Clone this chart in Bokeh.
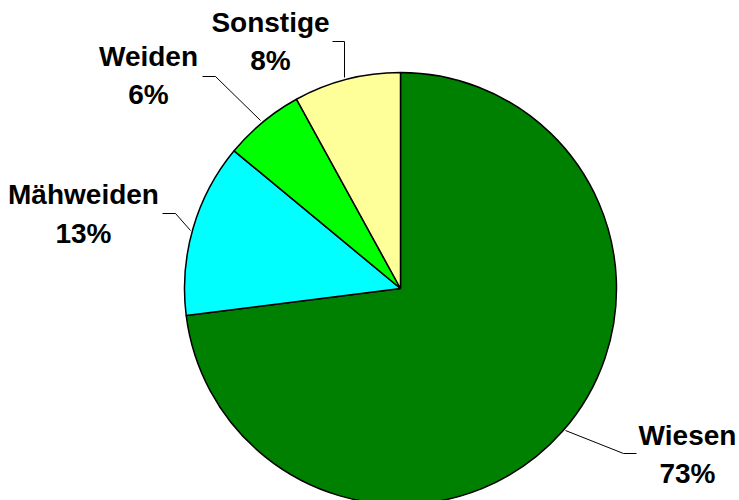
from bokeh.plotting import figure
from bokeh.models import Range1d
from bokeh.embed import file_html
from bokeh.resources import INLINE
from bokeh.core.properties import value
import math

categories = ["Wiesen", "Mähweiden", "Weiden", "Sonstige"]
shares = [73, 13, 6, 8]
colors = ["#008000", "#00FFFF", "#00FF00", "#FFFF99"]

# center of pie in picture pixels
CX, CY = 400, 288
R = 216
W, H = 739, 500

def X(sx):
    return sx - CX

def Y(sy):
    return CY - sy

p = figure(width=W, height=H, output_backend="svg", toolbar_location=None,
           x_range=Range1d(X(0), X(W)), y_range=Range1d(Y(H), Y(0)),
           min_border=0)
p.axis.visible = False
p.grid.visible = False
p.outline_line_color = None
p.background_fill_color = "white"

total = sum(shares)
cum = 0.0
starts, ends = [], []
for v in shares:
    starts.append(math.pi / 2 - 2 * math.pi * cum / total)
    cum += v
    ends.append(math.pi / 2 - 2 * math.pi * cum / total)

p.wedge(x=[0] * 4, y=[0] * 4, radius=R, start_angle=starts, end_angle=ends,
        direction="clock", fill_color=colors, line_color="black", line_width=1.5)

# leader lines (picture pixel coords)
leaders = {
    "Wiesen": [(565, 430), (623, 453), (636, 453)],
    "Mähweiden": [(190, 230), (175, 213), (162, 213)],
    "Weiden": [(260, 120), (215, 76), (202, 76)],
    "Sonstige": [(344, 77), (344, 41), (332, 41)],
}
for pts in leaders.values():
    p.line([X(a) for a, b in pts], [Y(b) for a, b in pts], line_color="black", line_width=1)

# label positions: (center x, name baseline, pct baseline)
label_pos = {
    "Wiesen": (687, 435, 473),
    "Mähweiden": (83, 194, 233),
    "Weiden": (148, 56, 94),
    "Sonstige": (270, 22, 60),
}
for cat, v in zip(categories, shares):
    lx, b1, b2 = label_pos[cat]
    p.text(x=[X(lx), X(lx)], y=[Y(b1), Y(b2)], text=[cat, f"{v}%"],
           text_font=value("Liberation Sans"), text_font_style="bold",
           text_font_size="28px", text_align="center", text_baseline="alphabetic",
           text_color="black")

open("out.html", "w").write(file_html(p, INLINE))
